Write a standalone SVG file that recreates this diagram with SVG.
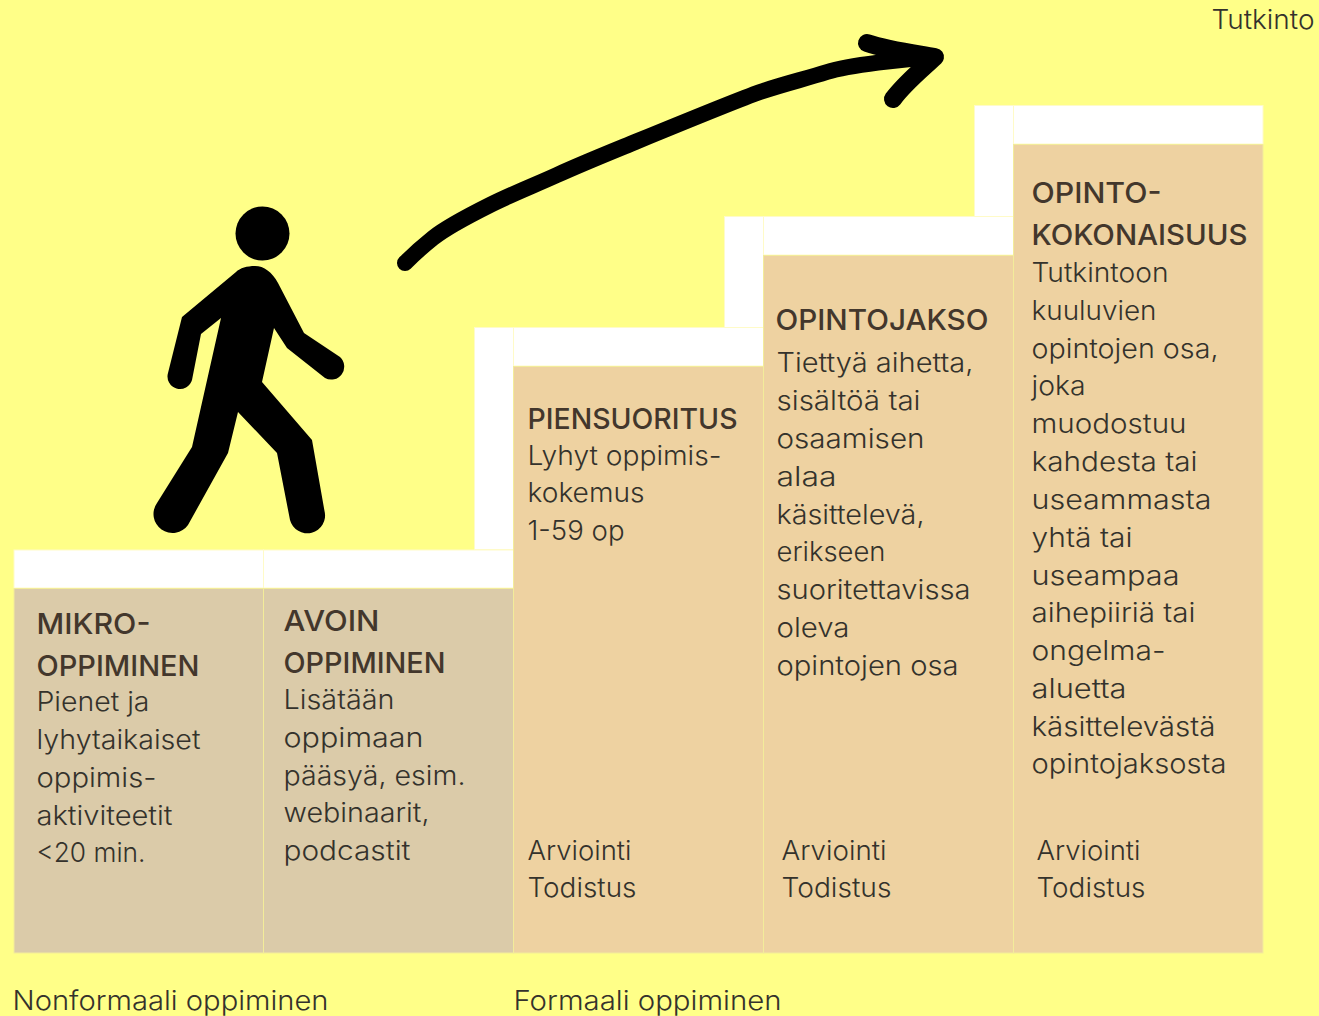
<svg xmlns="http://www.w3.org/2000/svg" width="1319" height="1016" viewBox="0 0 1319 1016">
<style>
text{font-family:Inter,"Open Sans","Liberation Sans",sans-serif;font-size:27px;font-weight:300;fill:#34322c;transform:translate(-0.5px,-0.3px)}
.h{font-size:29px;font-weight:500;fill:#43372c}
.w{fill:#fff;stroke:#fffbc8;stroke-width:1}.n{fill:#dbcba9;stroke:#f3ec9a;stroke-width:1}.f{fill:#eed2a1;stroke:#f3ec9a;stroke-width:1}
.c{fill:none;stroke:#000;stroke-linecap:round;stroke-linejoin:round}
</style>
<rect width="1319" height="1016" fill="#ffff88"/>
<g id="tutkinto"><text x="1212" y="29" textLength="103" lengthAdjust="spacingAndGlyphs">Tutkinto</text></g>
<g id="walker">
<circle cx="262.500" cy="233.500" r="27"/>
<path d="M255 266C247 266 240 268 236 272L182 317L168 373A12 12 0 0 0 192 380L201 334L221 318L192 447L157 503A17.500 17.500 0 0 0 188 525L228 453L238 412L277 453L290 520A17.500 17.500 0 0 0 324.500 511L312 440L262 382L274 328L287 348L325 378A13 13 0 0 0 340 357L304 333L278 283C272 272 264 266 255 266Z"/>
</g>
<g id="connectors">
<path class="c" stroke-width="16" d="M405 263C414 254 423 246 433 238S468 216 490 205S535 185 557 175S601 156 623 147S737 100 760 92S805 79 827 72S905 59 935 57"/>
<path class="c" stroke-width="18" d="M867 43C888 50 912 53 935 57C920 71 905 83 893 99"/>
</g>
<g id="mikro">
<rect class="w" x="14" y="550" width="249.500" height="38"/><rect class="n" x="14" y="588.500" width="249.500" height="364.500"/>
<text class="h" x="37" y="634" textLength="114" lengthAdjust="spacingAndGlyphs">MIKRO-</text>
<text class="h" x="37" y="676" textLength="163" lengthAdjust="spacingAndGlyphs">OPPIMINEN</text>
<text x="37" y="711" textLength="113" lengthAdjust="spacingAndGlyphs">Pienet ja</text>
<text x="37" y="749" textLength="164" lengthAdjust="spacingAndGlyphs">lyhytaikaiset</text>
<text x="37" y="787" textLength="120" lengthAdjust="spacingAndGlyphs">oppimis-</text>
<text x="37" y="825" textLength="136" lengthAdjust="spacingAndGlyphs">aktiviteetit</text>
<text x="37" y="862" textLength="109" lengthAdjust="spacingAndGlyphs">&lt;20 min.</text>
</g>
<g id="avoin">
<rect class="w" x="263.500" y="550" width="250" height="38"/><rect class="n" x="263.500" y="588.500" width="250" height="364.500"/>
<text class="h" x="284" y="631" textLength="96" lengthAdjust="spacingAndGlyphs">AVOIN</text>
<text class="h" x="284" y="673" textLength="162" lengthAdjust="spacingAndGlyphs">OPPIMINEN</text>
<text x="284" y="709" textLength="111" lengthAdjust="spacingAndGlyphs">Lisätään</text>
<text x="284" y="747" textLength="140" lengthAdjust="spacingAndGlyphs">oppimaan</text>
<text x="284" y="785" textLength="182" lengthAdjust="spacingAndGlyphs">pääsyä, esim.</text>
<text x="284" y="822" textLength="146" lengthAdjust="spacingAndGlyphs">webinaarit,</text>
<text x="284" y="860" textLength="127" lengthAdjust="spacingAndGlyphs">podcastit</text>
</g>
<g id="piensuoritus">
<rect class="w" x="474.500" y="327.500" width="39" height="222"/><rect class="w" x="513.500" y="327.500" width="250" height="38.500"/><rect class="f" x="513.500" y="366.500" width="250" height="586.500"/>
<text class="h" x="528" y="429" textLength="210" lengthAdjust="spacingAndGlyphs">PIENSUORITUS</text>
<text x="528" y="465" textLength="194" lengthAdjust="spacingAndGlyphs">Lyhyt oppimis-</text>
<text x="528" y="502" textLength="117" lengthAdjust="spacingAndGlyphs">kokemus</text>
<text x="528" y="540" textLength="97" lengthAdjust="spacingAndGlyphs">1-59 op</text>
<text x="528" y="860" textLength="104" lengthAdjust="spacingAndGlyphs">Arviointi</text>
<text x="528" y="897" textLength="109" lengthAdjust="spacingAndGlyphs">Todistus</text>
</g>
<g id="opintojakso">
<rect class="w" x="724.500" y="216.500" width="39" height="111"/><rect class="w" x="763.500" y="216.500" width="250" height="38.500"/><rect class="f" x="763.500" y="255.500" width="250" height="697.500"/>
<text class="h" x="776" y="330" textLength="213" lengthAdjust="spacingAndGlyphs">OPINTOJAKSO</text>
<text x="777" y="372" textLength="197" lengthAdjust="spacingAndGlyphs">Tiettyä aihetta,</text>
<text x="777" y="410" textLength="144" lengthAdjust="spacingAndGlyphs">sisältöä tai</text>
<text x="777" y="448" textLength="148" lengthAdjust="spacingAndGlyphs">osaamisen</text>
<text x="777" y="486" textLength="60" lengthAdjust="spacingAndGlyphs">alaa</text>
<text x="777" y="524" textLength="148" lengthAdjust="spacingAndGlyphs">käsittelevä,</text>
<text x="777" y="561" textLength="109" lengthAdjust="spacingAndGlyphs">erikseen</text>
<text x="777" y="599" textLength="194" lengthAdjust="spacingAndGlyphs">suoritettavissa</text>
<text x="777" y="637" textLength="73" lengthAdjust="spacingAndGlyphs">oleva</text>
<text x="777" y="675" textLength="182" lengthAdjust="spacingAndGlyphs">opintojen osa</text>
<text x="782" y="860" textLength="105" lengthAdjust="spacingAndGlyphs">Arviointi</text>
<text x="782" y="897" textLength="110" lengthAdjust="spacingAndGlyphs">Todistus</text>
</g>
<g id="opintokokonaisuus">
<rect class="w" x="974.500" y="105.500" width="39" height="111"/><rect class="w" x="1013.500" y="105.500" width="249.500" height="38.500"/><rect class="f" x="1013.500" y="144.500" width="249.500" height="808.500"/>
<text class="h" x="1032" y="203" textLength="130" lengthAdjust="spacingAndGlyphs">OPINTO-</text>
<text class="h" x="1032" y="245" textLength="216" lengthAdjust="spacingAndGlyphs">KOKONAISUUS</text>
<text x="1032" y="282" textLength="137" lengthAdjust="spacingAndGlyphs">Tutkintoon</text>
<text x="1032" y="320" textLength="125" lengthAdjust="spacingAndGlyphs">kuuluvien</text>
<text x="1032" y="358" textLength="187" lengthAdjust="spacingAndGlyphs">opintojen osa,</text>
<text x="1032" y="395" textLength="54" lengthAdjust="spacingAndGlyphs">joka</text>
<text x="1032" y="433" textLength="155" lengthAdjust="spacingAndGlyphs">muodostuu</text>
<text x="1032" y="471" textLength="166" lengthAdjust="spacingAndGlyphs">kahdesta tai</text>
<text x="1032" y="509" textLength="180" lengthAdjust="spacingAndGlyphs">useammasta</text>
<text x="1032" y="547" textLength="101" lengthAdjust="spacingAndGlyphs">yhtä tai</text>
<text x="1032" y="585" textLength="148" lengthAdjust="spacingAndGlyphs">useampaa</text>
<text x="1032" y="622" textLength="164" lengthAdjust="spacingAndGlyphs">aihepiiriä tai</text>
<text x="1032" y="660" textLength="134" lengthAdjust="spacingAndGlyphs">ongelma-</text>
<text x="1032" y="698" textLength="95" lengthAdjust="spacingAndGlyphs">aluetta</text>
<text x="1032" y="736" textLength="184" lengthAdjust="spacingAndGlyphs">käsittelevästä</text>
<text x="1032" y="773" textLength="195" lengthAdjust="spacingAndGlyphs">opintojaksosta</text>
<text x="1037" y="860" textLength="104" lengthAdjust="spacingAndGlyphs">Arviointi</text>
<text x="1037" y="897" textLength="109" lengthAdjust="spacingAndGlyphs">Todistus</text>
</g>
<g id="nonformaali"><text x="13" y="1010" textLength="316" lengthAdjust="spacingAndGlyphs">Nonformaali oppiminen</text></g>
<g id="formaali"><text x="514" y="1010" textLength="268" lengthAdjust="spacingAndGlyphs">Formaali oppiminen</text></g>
</svg>
